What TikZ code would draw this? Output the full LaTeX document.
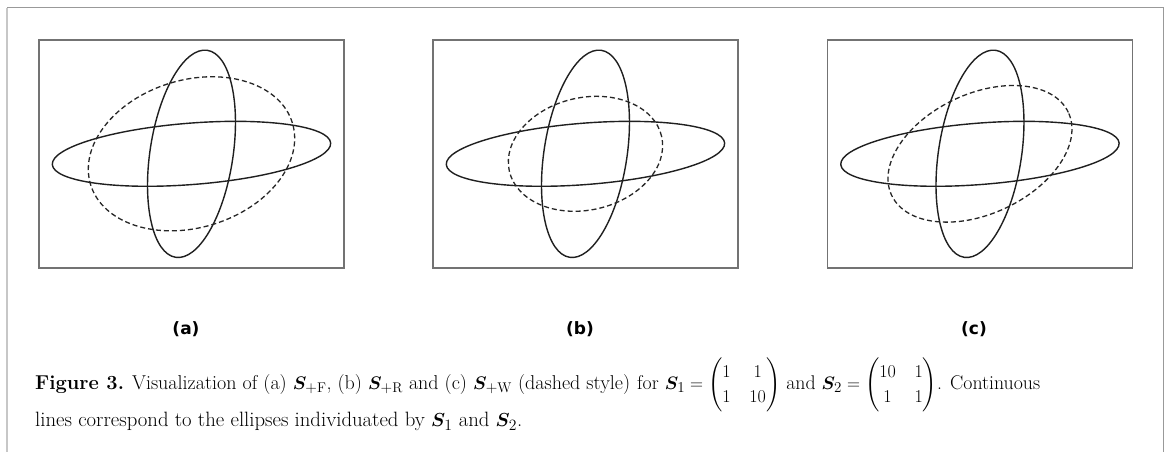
\documentclass[tikz,border=0pt]{standalone}
\usepackage{amsmath,bm,graphicx}
\usepackage{fontspec}
\newfontfamily\labfont{DejaVu Sans}
\begin{document}
\begin{tikzpicture}[x=1pt,y=1pt,
  panelbox/.style={draw=black!55,line width=1.1pt,minimum width=305pt,minimum height=228pt,inner sep=0pt},
  solidell/.style={draw=black!88,line width=1.4pt},
  dashell/.style={draw=black!85,line width=1.3pt,dash pattern=on 5pt off 3pt},
  sublabel/.style={font=\labfont\bfseries\fontsize{17}{20}\selectfont,inner sep=0pt},
  captext/.style={anchor=base west,inner sep=0pt,font=\fontsize{19}{23.5}\selectfont},
]
\useasboundingbox (0,0) rectangle (1170,452);
\fill[white] (0,0) rectangle (1170,452);
% outer frame
\coordinate (fbl) at (7,0);
\coordinate (ftl) at (7,444);
\coordinate (ftr) at (1163,444);
\coordinate (fbr) at (1163,0);
\draw[draw=black!22,line width=2pt] (fbl) -- (ftl);
\draw[draw=black!40,line width=1pt] (ftl) -- (ftr) -- (fbr);
% panels
\foreach \cx/\lx/\lab/\da/\db/\rot in {191.5/186/a/105.5/73.8/17, 585.5/580/b/78.1/56.2/12.8, 980/974/c/97.6/60/25.1}{
  \node[panelbox] (box\lab) at (\cx,298) {};
  \coordinate (c\lab) at (\cx,298.2);
  \draw[solidell,rotate around={4.45:(c\lab)}] (c\lab) ellipse [x radius=139.6, y radius=30.7];
  \draw[solidell,rotate around={-8.7:(c\lab)}] (c\lab) ellipse [x radius=41.5, y radius=104.7];
  \draw[dashell,rotate around={\rot:(c\lab)}] (c\lab) ellipse [x radius=\da, y radius=\db];
  \node[sublabel] (lab\lab) at (\lx,123) {(\lab)};
}
% caption
\setlength\arraycolsep{9pt}
\node[captext] (cap1a) at (35,62.5) {\resizebox{595pt}{!}{\textbf{Figure 3.} Visualization of (a) $\bm{S}_{+\mathrm{F}}$, (b) $\bm{S}_{+\mathrm{R}}$ and (c) $\bm{S}_{+\mathrm{W}}$ (dashed style)}};
\node[captext] (cap1b) at (637,62.5) {\resizebox{403pt}{!}{for $\bm{S}_1=\begin{pmatrix}1&1\\1&10\end{pmatrix}$ and $\bm{S}_2=\begin{pmatrix}10&1\\1&1\end{pmatrix}$. Continuous}};
\node[captext] (cap2) at (35,25.5) {\resizebox{487pt}{!}{lines correspond to the ellipses individuated by $\bm{S}_1$ and $\bm{S}_2$.}};
\end{tikzpicture}
\end{document}
